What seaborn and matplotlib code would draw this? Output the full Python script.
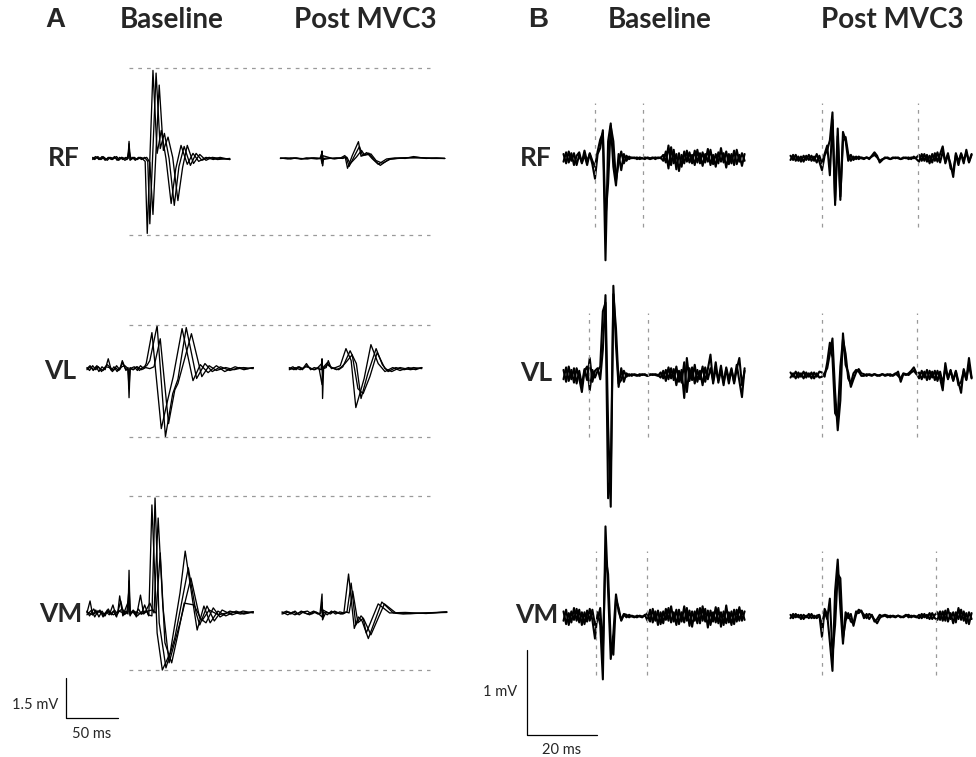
import numpy as np
import matplotlib
matplotlib.use("Agg")
import matplotlib.pyplot as plt
import seaborn as sns

sns.set_theme(style="white")
plt.rcParams['font.family'] = ['Lato', 'DejaVu Sans']

# ---------------- panel A: M-waves, ms from stimulus / mV -----------------
A_RF_BASE_T = [
    [-35, -32, -29, -26, -23, -20, -17, -14, -11.5, -9, -6, -3, -1, 0, 1, 4, 7, 10, 12.5,
     15.5, 17.5, 23, 27, 31, 35.5, 40.5, 45, 50, 56, 61.5, 67, 74, 81, 87.5, 97],
    [-35, -33, -30, -27, -24, -21, -18, -15, -12, -9.5, -7, -4, -1, 0, 1, 3, 6, 9, 12, 15,
     18, 20, 26, 30, 34, 38.5, 43.5, 48, 53, 59, 64.5, 70, 77, 85, 97],
    [-35, -31, -28, -25, -22, -19, -16, -13, -10, -7, -4, -2, 0, 2, 5, 8, 11, 14, 17, 20,
     23, 29, 33, 37.5, 42, 47, 51.5, 56, 62, 68, 74, 80, 88, 97],
]
A_RF_BASE_V = [
    [0, 0.07, -0.04, 0.07, -0.07, 0.04, -0.04, 0.07, -0.07, 0.04, -0.04, 0.04, 0, 0.64, -0.07,
     0.04, -0.04, 0.04, 0, -0.11, -2.81, 3.30, 0.19, 1.05, 0, -1.69, -0.37, 0.49, -0.22, 0.19,
     -0.11, 0.04, -0.04, 0.04, -0.04],
    [0.04, -0.04, 0.07, -0.04, 0.04, -0.07, 0.04, 0, 0.07, -0.04, 0.04, -0.07, 0, 0.55, -0.04,
     0.04, -0.07, 0.04, -0.04, 0.04, -0.11, -2.45, 3.2, 0.37, 0.94, 0, -1.76, -0.3, 0.45, -0.26,
     0.19, -0.07, 0.04, -0.04, 0],
    [-0.04, 0.04, -0.04, 0.07, -0.04, 0.04, -0.04, 0.04, -0.07, 0.04, 0, -0.04, 0.3, -0.04, 0.04,
     -0.04, 0.04, 0, 0.04, -0.15, -2.1, 2.75, 0.3, 0.8, 0.04, -1.58, -0.34, 0.49, -0.19, 0.15,
     -0.07, 0.04, 0, -0.04],
]
A_RF_POST_T = [
    [-40, -35, -30, -25, -20, -15, -10, -5, -1, 0, 0.5, 1.5, 6, 12, 18, 22, 24.5, 29, 35, 37.5,
     43, 48, 54, 62, 70, 80, 88, 100, 110, 118],
    [-40, -33, -27, -21, -14, -8, -2, 0, 1, 7, 14, 20, 23, 26, 31, 36, 39, 45, 50, 56, 64, 75,
     90, 105, 118],
    [-40, -30, -20, -10, -1, 0, 1, 10, 20, 24, 27, 33, 38, 41, 47, 52, 58, 66, 80, 100, 118],
]
A_RF_POST_V = [
    [0, 0.02, -0.02, 0.02, -0.02, 0.02, 0, -0.02, 0, 0.28, -0.28, 0, 0.02, -0.02, 0.02, 0.11,
     -0.37, 0.1, 0.63, 0.08, 0.22, 0, -0.22, -0.02, 0.02, 0, 0.07, 0, 0.02, 0],
    [0.02, -0.02, 0.02, 0, -0.02, 0.02, 0, 0.22, -0.04, 0, 0.02, 0, 0.07, -0.3, 0.08, 0.45, 0.1,
     0.2, -0.05, -0.26, -0.04, 0.02, 0.04, 0, 0],
    [0, 0.02, -0.02, 0.02, 0, -0.2, 0.1, 0, 0.02, 0.04, -0.2, 0.05, 0.3, 0.12, 0.17, -0.08,
     -0.18, -0.02, 0.02, 0.02, 0],
]
A_VL_BASE_T = [
    [-40.5, -37.5, -34.5, -31.5, -29, -26, -23, -20, -17, -14.5, -11.5, -8.5, -6, -3, -1, 0, 1,
     5, 8, 11, 14, 16.5, 22, 31, 37.5, 42.5, 51, 61.5, 68.5, 76, 84, 92, 102, 110.5, 119.5],
    [-40.5, -38, -35, -32, -29.5, -26.5, -23.5, -21, -18, -15, -12, -9, -6.5, -3.5, -1, 0, 1, 4,
     7, 10, 13, 17, 20, 27, 35, 42, 47, 55, 65, 73, 80, 88, 97, 106, 114, 119.5],
    [-40.5, -37, -34, -31, -28, -25, -22, -19, -16, -13, -10, -7, -4, -1, 0, 1, 4, 8, 12, 16,
     20, 24, 30, 38, 44, 47, 60, 70, 77, 84, 93, 101, 110, 119.5],
]
A_VL_BASE_V = [
    [0, 0.11, -0.07, 0.07, -0.11, 0.07, -0.04, 0.37, -0.07, 0.07, -0.11, 0.04, 0.22, -0.07,
     0.04, -1.09, 0, 0.07, -0.07, 0.11, 0, 0.19, 1.35, -2.25, -1.12, -0.3, 1.5, -0.45, 0.15,
     -0.15, 0.11, -0.11, 0.07, -0.04, 0.04],
    [0.04, -0.07, 0.11, -0.04, 0.07, -0.11, 0.04, 0.15, 0.04, -0.07, 0.11, -0.04, 0.3, 0, -0.04,
     -0.75, 0.04, -0.04, 0.07, -0.07, 0.04, 0.11, 0.3, 1.61, -2.55, -0.94, -0.4, 1.54, -0.37,
     0.19, -0.11, 0.07, -0.07, 0.04, 0, 0.04],
    [-0.04, 0.07, -0.04, 0.11, 0, -0.07, 0.07, 0.04, -0.11, 0.04, -0.07, 0.07, 0.11, 0, -0.4, 0,
     -0.04, 0.07, -0.04, 0.04, 0, 0.07, 1.12, -2.06, -0.8, -0.56, 1.31, -0.3, 0.11, -0.07, 0.04,
     -0.04, 0.04, 0],
]
A_VL_POST_T = [
    [-31.5, -28, -25, -22, -18.5, -15, -11, -7.5, -4, -1, 0, 0.5, 1.5, 4, 6, 9, 13, 17.5, 23, 28,
     32.5, 40.5, 47, 54, 60.5, 68, 75, 83, 90, 96],
    [-31.5, -27, -23, -19, -15, -11, -7, -3, 0, 1, 5, 8, 12, 16, 20, 27, 33, 37.5, 44, 52, 58,
     63.5, 71, 79, 88, 96],
    [-31.5, -26, -21, -16, -12, -8, -4, 0, 1, 5, 9, 14, 18, 22, 29, 34.5, 39.5, 46, 53, 60.5,
     67, 75, 85, 96],
]
A_VL_POST_V = [
    [0, 0.07, -0.04, 0.07, 0, 0.19, -0.04, 0.04, 0, -0.04, 0.37, -1.12, 0, 0.04, 0.3, 0, 0.04,
     0.11, 0.75, 0.3, -1.46, -0.37, 0.9, 0.19, -0.11, 0.04, -0.07, 0.04, -0.04, 0.04],
    [0.04, -0.04, 0.07, -0.04, 0.11, 0, -0.04, 0.04, -0.6, 0.04, 0.22, 0.07, 0, -0.04, 0.07,
     0.67, 0.19, -1.12, -0.19, 0.75, 0.15, -0.11, 0.04, -0.04, 0.04, 0],
    [-0.04, 0.04, -0.04, 0.07, 0.04, -0.04, 0.04, 0.2, 0, 0.15, 0.04, -0.04, 0.04, 0.19, 0.52,
     -0.75, -0.94, -0.3, 0.6, 0, -0.11, 0.04, -0.04, 0.04],
]
A_VM_BASE_T = [
    [-40.5, -37.5, -35, -32, -29, -26, -23, -20, -17, -14, -11, -9, -6, -3, -1, 0, 1, 4, 7, 11,
     14, 17, 19, 22, 27, 32, 39.5, 49, 54, 61.5, 65.5, 72, 78, 85.5, 93, 103, 110.5, 119.5],
    [-40.5, -38, -34, -31, -28, -25, -22, -19, -15.5, -12.5, -9.5, -6.5, -3.5, -1, 0, 1, 3, 6,
     9, 12, 15, 18.5, 22, 25, 29, 35.5, 44, 57, 64.5, 68, 75, 82, 89.5, 99, 109.5, 119.5],
    [-40.5, -36, -33, -30, -27, -24, -21, -18, -15, -12, -8, -5, -2, 0, 1, 5, 8, 12, 16, 20, 24,
     28, 32.5, 38.5, 49, 59.5, 68, 74, 81, 87.5, 97, 107, 119.5],
    [-40.5, -35, -30, -25, -20, -15, -10, -5, 0, 1, 6, 12, 18, 22, 26, 30, 34.5, 41, 47, 53,
     62.5, 70, 77, 86, 98, 110, 119.5],
]
A_VM_BASE_V = [
    [0, 0.45, -0.07, 0.11, -0.15, 0.07, -0.11, 0.15, -0.07, 0.11, -0.04, 0.64, -0.11, 0.07,
     -0.04, 1.6, -0.07, 0.11, -0.15, 0.67, -0.04, 0.07, -0.11, 4.05, -0.75, -2.14, -1.5, 0.75,
     2.32, 0.37, -0.64, 0.26, -0.37, 0.07, -0.11, 0.07, -0.04, 0.04],
    [0.07, -0.11, 0.15, -0.04, 0.11, -0.15, 0.04, -0.07, 0.3, -0.11, 0.07, 0.15, -0.04, 0.04,
     1.2, -0.11, 0.07, -0.07, 0.15, -0.04, 0.3, -0.07, -0.11, 4.31, -0.37, -2.06, -0.94, 1.69,
     0, -0.45, 0.26, -0.3, 0.11, -0.07, 0.07, 0],
    [-0.07, 0.11, -0.15, 0.07, 0.04, -0.11, 0.11, -0.04, 0.07, -0.15, 0.45, -0.07, 0.04, 0.9,
     -0.04, 0.07, -0.11, 0.04, 0.07, 0.37, 0, 3.56, 0.26, -1.87, -0.37, 1.31, -0.19, -0.37, 0.19,
     -0.15, 0.07, -0.04, 0.04],
    [0.04, -0.07, 0.07, -0.04, 0.04, -0.07, 0.07, 0, 0.5, 0, 0.04, -0.04, 0.07, 0.11, 0, 2.25,
     -1.12, -1.87, -0.8, 0.37, 0.3, -0.3, 0.11, -0.07, 0.04, 0, 0.04],
]
A_VM_POST_T = [
    [-38.5, -34, -30, -26, -22, -18, -14, -10, -6, -2, 0, 0.5, 1.5, 5, 9, 13, 17, 21, 25.5, 31,
     35, 38.5, 44.5, 57.5, 68.5, 78, 88, 100, 110, 120],
    [-38.5, -33, -28, -24, -20, -16, -12, -8, -4, -1, 0, 1, 4, 8, 12, 16, 20, 24, 28, 32.5, 37.5,
     40, 47, 60, 71, 85, 100, 120],
    [-38.5, -32, -26, -20, -14, -8, -3, 0, 1, 6, 12, 18, 23, 26, 29.5, 34.5, 39.5, 42.5, 54, 65,
     80, 100, 120],
]
A_VM_POST_V = [
    [0, 0.07, -0.04, 0.07, -0.07, 0.04, 0.07, -0.04, 0.04, -0.04, 0.71, -0.26, 0.04, -0.07,
     0.07, -0.04, 0.04, 0, 1.46, -0.58, -0.15, -0.3, -0.96, 0.41, 0, -0.04, -0.02, 0, 0.02, 0.04],
    [0.04, -0.07, 0.04, -0.04, 0.07, 0, -0.07, 0.04, -0.04, 0, 0.4, -0.2, 0.04, -0.04, 0.07, 0,
     -0.04, 0.04, 1.12, -0.45, -0.11, -0.22, -0.82, 0.34, 0, -0.02, 0, 0.02],
    [-0.04, 0.04, -0.07, 0.04, -0.04, 0.07, -0.04, -0.15, 0.11, 0, 0.04, -0.04, 0.04, 0, 0.82,
     -0.37, -0.2, -0.75, 0.34, 0, 0.02, -0.02, 0.04],
]
# dashed guides: baseline peak and trough of each muscle (mV)
A_GUIDES_MV = {'RF': (3.39, -2.87), 'VL': (1.65, -2.55), 'VM': (4.39, -2.14)}
A_GUIDE_LEN_MS = 289

# ---------------- panel B: MEPs, sampled every 0.75 ms from -9 ms -----------------
B_T0 = -9.0
B_DT = 0.75
B_RF_BASE = [
    [0.05, -0.06, 0.08, -0.03, 0.06, -0.08, 0.04, -0.05, 0.09, -0.04, 0.05, -0.07,
     -0.24,
     0.05, 0.12, 0.33, -1.2, 0.2, 0.41, -0.1, -0.32, 0.05, -0.14, 0.05, -0.03,
     0.02, 0, 0.01, -0.01, 0.01, 0, -0.01, 0.01, 0, 0.01, -0.01, 0.01, 0,
     0.04, -0.05, 0.15, -0.08, 0.1, -0.13, 0.06, -0.1, 0.08, -0.04, 0.07, -0.06, 0.09, -0.05,
     0.06, -0.09, 0.05, -0.04, 0.1, -0.07, 0.05, -0.06, 0.12, -0.05, 0.08, -0.07, 0.05, -0.08,
     0.1, -0.04, 0.06, -0.03],
    [-0.04, 0.07, -0.05, 0.06, -0.08, 0.03, 0.07, -0.06, 0.04, -0.08, 0.06, -0.03,
     -0.1,
     0.08, 0.22, 0.3, -0.7, -0.3, 0.38, 0.2, -0.26, -0.05, 0.08, -0.06, 0.03,
     -0.01, 0.01, 0, 0.01, -0.01, 0, 0.01, 0, -0.01, 0, 0.01, 0, 0.01,
     -0.03, 0.08, -0.12, 0.13, -0.06, 0.05, -0.15, 0.04, -0.06, 0.09, -0.05, 0.04, -0.08, 0.1,
     -0.06, 0.07, -0.05, 0.11, -0.08, 0.04, -0.1, 0.07, -0.04, 0.06, -0.11, 0.05, -0.06, 0.09,
     -0.07, 0.04, -0.09, 0.05],
]
B_RF_POST = [
    [0.03, -0.02, 0.04, -0.03, 0.02, -0.04, 0.03, -0.02, 0.03, -0.03, 0.05, -0.04,
     -0.14,
     0.03, 0.1, 0.21, 0.54, -0.55, 0.26, -0.49, 0.31, 0.21, -0.03, 0.04, -0.02,
     0.02, -0.01, 0.01, 0, 0.01, -0.01, 0.03, 0.07, 0.03, -0.05, -0.02, 0.01, 0, -0.01, 0.01,
     0, 0.01, -0.01, 0, 0.01, -0.01, 0.01, 0, 0.01,
     0.04, -0.03, 0.05, -0.04, 0.03, -0.05, 0.06, -0.04, 0.05, 0.14, -0.06, 0.04, -0.07,
     -0.22, 0.06, -0.04, 0.05, -0.06, 0.1, -0.05, 0.04],
    [-0.02, 0.04, -0.03, 0.02, -0.04, 0.03, -0.02, 0.04, -0.03, 0.02, -0.05, 0.03,
     -0.06,
     0.05, 0.15, -0.2, 0.45, -0.5, 0.35, -0.45, 0.2, 0.25, 0.05, -0.03, 0.02,
     -0.01, 0.02, 0, -0.01, 0.01, 0, 0.02, 0.04, 0.01, -0.03, -0.01, 0, 0.01, -0.01, 0, 0.01,
     0, -0.01, 0.01, 0, 0.01, -0.01, 0.02, -0.01,
     -0.04, 0.05, -0.03, 0.04, -0.06, 0.05, -0.03, 0.07, -0.05, 0.08, -0.04, 0.06, -0.12,
     -0.15, 0.04, -0.08, 0.06, -0.03, 0.07, -0.04, 0.05],
]
B_VL_BASE = [
    [0.06, -0.08, 0.1, -0.05, 0.08, -0.1, 0.05, -0.12, 0.07, -0.06, 0.2, -0.08,
     0.05,
     0.08, -0.05, 0.3, 0.94, -0.6, -1.55, 1.05, 0.35, -0.14, 0.08, -0.08,
     0.02, -0.01, 0.01, 0, -0.01, 0.01, 0, 0.01, -0.01, 0, 0.01, 0, -0.01,
     0.03, -0.04, 0.06, -0.05, 0.08, -0.06, 0.1, -0.08, 0.06, -0.27, 0.2, -0.07, 0.09, -0.1,
     0.06, -0.05, 0.1, -0.08, 0.07, 0.24, -0.1, 0.08, -0.06, 0.11, -0.09, 0.07, -0.1, 0.06,
     -0.08, 0.12, -0.07, -0.26, 0.08],
    [-0.05, 0.09, -0.07, 0.06, -0.09, 0.08, -0.04, -0.2, 0.05, 0.1, -0.18, 0.06,
     -0.03,
     0.05, 0.1, 0.75, 0.85, -1.45, -1.2, 0.95, 0.55, -0.1, -0.06, 0.05,
     -0.02, 0.01, -0.01, 0.01, 0, -0.01, 0.01, 0, -0.01, 0.01, 0, 0.01, 0,
     -0.03, 0.05, -0.07, 0.09, -0.04, 0.07, -0.12, 0.05, -0.09, 0.15, -0.2, 0.08, -0.06, 0.12,
     -0.08, 0.05, -0.12, 0.09, -0.05, 0.08, -0.07, 0.15, -0.09, 0.06, -0.12, 0.09, -0.05, 0.08,
     -0.1, 0.07, 0.2, -0.12, 0.05],
]
B_VL_POST = [
    [0.03, -0.02, 0.04, -0.03, 0.02, -0.04, 0.03, -0.02, 0.03, -0.04, 0.02, -0.03,
     -0.02,
     0.02, 0.08, 0.25, 0.43, -0.2, -0.65, -0.3, 0.49, 0.12, 0.03, -0.14, -0.05, 0.03, 0.07, 0.02,
     0.01, -0.01, 0.01, 0, 0.01, -0.01, 0, 0.01, -0.01, 0, 0.01, -0.01, 0.01, 0.04, -0.08, 0.01,
     0, 0.02, 0.05, 0.09, 0.02,
     -0.04, 0.05, -0.03, 0.06, -0.05, 0.04, -0.06, 0.05, -0.04, -0.18, 0.14, -0.05, 0.06,
     -0.07, 0.05, -0.08, -0.21, 0.07, -0.05, 0.2, -0.03],
    [-0.03, 0.02, -0.04, 0.03, -0.02, 0.04, -0.03, 0.02, -0.04, 0.03, -0.02, 0.04,
     0.03,
     -0.02, 0.15, 0.38, 0.2, -0.45, -0.5, 0.1, 0.42, 0.25, -0.04, -0.1, 0.02, 0.06, 0.04, -0.01,
     -0.01, 0.01, 0, -0.01, 0.01, 0, -0.01, 0.01, 0, 0.01, -0.01, 0, 0.02, -0.01, -0.04, 0.02,
     0.01, 0, 0.03, 0.05, 0.01,
     0.03, -0.05, 0.04, -0.06, 0.05, -0.03, 0.05, -0.07, 0.04, -0.1, 0.08, -0.04, 0.05, -0.06,
     0.04, -0.12, -0.08, 0.05, -0.06, 0.12, -0.04],
]
B_VM_BASE = [
    [0.06, -0.09, 0.04, -0.07, 0.1, -0.05, 0.08, -0.1, 0.05, -0.06, 0.09, -0.04,
     -0.26,
     0.05, -0.1, -0.74, 1.06, 0.3, -0.5, -0.2, 0.26, 0.06, -0.04, 0.03,
     0.02, -0.01, 0.01, 0, -0.01, 0.01, 0, 0.01,
     0.04, -0.06, 0.09, -0.05, 0.07, -0.09, 0.06, -0.04, 0.1, -0.07, 0.05, -0.1, 0.08, -0.06,
     0.12, -0.05, 0.07, -0.12, 0.06, -0.08, 0.1, -0.05, 0.09, -0.13, 0.07, -0.06, 0.11, -0.08,
     0.05, -0.1, 0.13, -0.07, 0.06, -0.09, 0.08, -0.05, 0.07, -0.04],
    [-0.05, 0.08, -0.1, 0.06, -0.04, 0.09, -0.07, 0.05, -0.09, 0.07, -0.05, 0.08,
     -0.1,
     -0.04, 0.1, -0.4, 0.7, 0.5, -0.3, -0.45, 0.2, 0.1, -0.05, 0.02,
     -0.01, 0.02, 0, -0.01, 0.01, 0, -0.01, 0.02,
     -0.05, 0.08, -0.07, 0.06, -0.1, 0.05, -0.08, 0.09, -0.05, 0.12, -0.06, 0.08, -0.09, 0.05,
     -0.07, 0.1, -0.11, 0.06, -0.05, 0.09, -0.08, 0.12, -0.06, 0.07, -0.1, 0.05, -0.07, 0.1,
     -0.12, 0.06, -0.08, 0.05, -0.1, 0.08, -0.06, 0.11, -0.05, 0.06],
]
B_VM_POST = [
    [0.02, -0.02, 0.03, -0.01, 0.02, -0.03, 0.01, -0.02, 0.03, -0.02, 0.01, 0.02,
     -0.24,
     0.09, 0.02, -0.3, -0.64, 0.3, 0.67, 0.1, -0.32, 0.05, -0.02, 0.03, -0.11, 0.02, 0.08, 0.06,
     0.02, -0.02, 0.03, 0.01, -0.04, -0.08, -0.02, 0.01, 0.02,
     0.01, -0.01, 0.01, 0, 0.01, -0.01, 0, 0.02, -0.01, 0.01, 0, -0.01, 0.02, -0.02, 0.03,
     -0.02, 0.04, -0.03, 0.02,
     0.05, -0.04, 0.06, -0.05, 0.09, -0.03, 0.05, -0.07, 0.1, -0.04, 0.06, -0.08, 0.05, -0.03],
    [-0.02, 0.03, -0.01, 0.02, -0.03, 0.02, -0.01, 0.03, -0.02, 0.01, -0.02, 0.01,
     -0.1,
     0.05, -0.03, 0.21, -0.45, -0.1, 0.5, 0.45, -0.25, -0.05, 0.04, -0.06, -0.08, 0.06, 0.04,
     0.07, -0.02, 0.03, -0.03, 0.02, -0.06, -0.03, 0.02, 0, 0.01,
     -0.01, 0.01, 0, -0.01, 0.01, 0, -0.01, 0.01, 0.02, -0.01, 0.01, 0, -0.02, 0.03, -0.01,
     0.02, -0.03, 0.04, -0.02,
     -0.04, 0.06, -0.05, 0.07, -0.06, 0.04, -0.08, 0.05, -0.03, 0.08, -0.05, 0.04, -0.09, 0.04],
]
# dotted window markers (ms from stimulus) and their vertical extent (mV)
B_MARKS_MS = {('RF', 0): (0, 13.7), ('RF', 1): (0, 27.4),
              ('VL', 0): (-1.7, 15.1), ('VL', 1): (0, 27.1),
              ('VM', 0): (0.3, 14.9), ('VM', 1): (0, 32.5)}
B_MARK_SPAN_MV = {'RF': (0.65, -0.81), 'VL': (0.73, -0.73), 'VM': (0.77, -0.69)}

# ---------------- layout -----------------
W, H = 976, 757
fig = plt.figure(figsize=(W / 100, H / 100), dpi=100)
axA = fig.add_axes([0, 0, 488 / W, 1])
axB = fig.add_axes([488 / W, 0, 488 / W, 1])
# 1 ms = 1.04 px, 1 mV = 26.67 px in A;  1 ms = 3.5 px, 1 mV = 85 px in B
axA.set_xlim(-63.5, 405.8)
axA.set_ylim(-1.46, 26.92)
axB.set_xlim(-11.14, 128.3)
axB.set_ylim(-0.259, 8.647)
for ax in (axA, axB):
    ax.axis('off')

A_COL = [60.6, 246.2]                      # stimulus time of each column
A_ROW = {'RF': 20.98, 'VL': 13.1, 'VM': 3.94}
B_COL = [19.43, 84.29]
B_ROW = {'RF': 6.785, 'VL': 4.235, 'VM': 1.394}

guide = dict(color='#9a9a9a', lw=0.9, ls=(0, (3, 4)))

a_sets = [('RF', 0, A_RF_BASE_T, A_RF_BASE_V), ('RF', 1, A_RF_POST_T, A_RF_POST_V),
          ('VL', 0, A_VL_BASE_T, A_VL_BASE_V), ('VL', 1, A_VL_POST_T, A_VL_POST_V),
          ('VM', 0, A_VM_BASE_T, A_VM_BASE_V), ('VM', 1, A_VM_POST_T, A_VM_POST_V)]
for row, col, ts, vs in a_sets:
    for t, v in zip(ts, vs):
        sns.lineplot(x=np.array(t) + A_COL[col], y=np.array(v) + A_ROW[row], ax=axA,
                     color='black', lw=0.95, estimator=None, sort=False)
for row, (top, bot) in A_GUIDES_MV.items():
    axA.hlines([A_ROW[row] + top, A_ROW[row] + bot], A_COL[0], A_COL[0] + A_GUIDE_LEN_MS, **guide)

b_sets = [('RF', 0, B_RF_BASE), ('RF', 1, B_RF_POST), ('VL', 0, B_VL_BASE),
          ('VL', 1, B_VL_POST), ('VM', 0, B_VM_BASE), ('VM', 1, B_VM_POST)]
for row, col, sweeps in b_sets:
    for v in sweeps:
        t = B_T0 + B_DT * np.arange(len(v))
        sns.lineplot(x=t + B_COL[col], y=np.array(v) + B_ROW[row], ax=axB,
                     color='black', lw=1.5, estimator=None, sort=False)
    top, bot = B_MARK_SPAN_MV[row]
    axB.vlines([B_COL[col] + m for m in B_MARKS_MS[(row, col)]],
               B_ROW[row] + bot, B_ROW[row] + top, **guide)

# scale bars
axA.plot([0, 0, 50], [1.5, 0, 0], color='black', lw=0.9)
axB.plot([0, 0, 20], [1, 0, 0], color='black', lw=0.9)


def px(x, y, s, **kw):
    fig.text(x / W, 1 - y / H, s, ha='center', va='center', **kw)


head = dict(fontsize=20, fontweight='bold')
label = dict(fontsize=19, fontweight='bold')
px(55, 20, 'A', family='Liberation Sans', fontsize=20, fontweight='bold')
px(538, 20, 'B', family='Liberation Sans', fontsize=20, fontweight='bold')
for x, s in [(172, 'Baseline'), (365, 'Post MVC3'), (660, 'Baseline'), (892, 'Post MVC3')]:
    px(x, 20, s, **head)
for x, y, s in [(64, 158, 'RF'), (60, 371, 'VL'), (61, 614, 'VM'),
                (536, 158, 'RF'), (536, 373, 'VL'), (537, 615, 'VM')]:
    px(x, y, s, **label)
px(35, 705, '1.5 mV', fontsize=10.5)
px(92, 734, '50 ms', fontsize=10.5)
px(500, 692, '1 mV', fontsize=10.5)
px(562, 750, '20 ms', fontsize=10.5)

fig.savefig('out.png', dpi=100, facecolor='white')
